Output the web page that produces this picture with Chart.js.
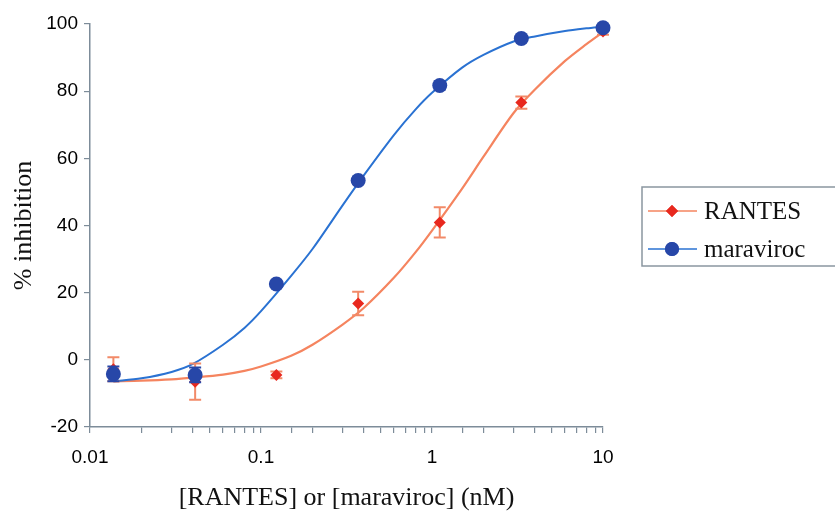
<!DOCTYPE html>
<html>
<head>
<meta charset="utf-8">
<script src="https://cdn.jsdelivr.net/npm/chart.js@4"></script>
<style>
html,body{margin:0;padding:0;background:#fff;}
#wrap{width:835px;height:515px;}
</style>
</head>
<body>
<div id="wrap"><canvas id="c" width="835" height="515"></canvas></div>
<script>
// Concentrations (nM)
const concentrations = [0.0137, 0.0412, 0.123, 0.370, 1.11, 3.33, 10];
// Mean % inhibition and error (±)
const rantesMean = [-2.8, -6.5, -4.5, 16.8, 40.9, 76.6, 97.8];
const rantesErr = [3.6, 5.4, 1.0, 3.5, 4.5, 1.8, 1.0];
const maravirocMean = [-4.2, -4.5, 22.6, 53.4, 81.7, 95.7, 98.9];
const maravirocErr = [2.2, 2.2, 0.6, 1.0, 1.2, 0.6, 0.5];
// Fitted curves
const fitX = [0.0137, 0.02, 0.03, 0.04, 0.06, 0.08, 0.1, 0.15, 0.2, 0.3, 0.4, 0.6, 0.8, 1, 1.5, 2, 3, 4, 6, 8, 10];
const rantesFit = [-6.4, -6.2, -5.8, -5.3, -4.4, -3.3, -2.0, 1.2, 4.5, 10.5, 15.5, 24.5, 32, 38.5, 51, 60.5, 73.5, 80.5, 89, 94, 97.6];
const maravirocFit = [-6.4, -5.5, -3.6, -1.2, 4.5, 9.5, 14.5, 25, 33, 46, 55, 67, 74.5, 79.5, 87, 90.8, 94.8, 96.3, 97.9, 98.7, 99.2];
// Axis ticks
const xTickLabels = [0.01, 0.1, 1, 10];
const yTicks = [-20, 0, 20, 40, 60, 80, 100];
const seriesNames = ['RANTES', 'maraviroc'];

const C = {
  rLine: '#f5845f', rMark: '#e8281e', rErr: '#f28a68',
  mLine: '#2a72d2', mMark: '#2747a8', mErr: '#2747a8',
  axis: '#7d8c99'
};

const pts = (xs, ys) => xs.map((x, i) => ({x: x, y: ys[i]}));

const errorBars = {
  id: 'errorBars',
  beforeDatasetDraw(chart, args) {
    const ds = chart.data.datasets[args.index];
    if (!ds.errors) return;
    const ctx = chart.ctx, xs = chart.scales.x, ys = chart.scales.y;
    ctx.save();
    ctx.strokeStyle = ds.errColor;
    ctx.lineWidth = 2;
    ds.data.forEach((p, i) => {
      const e = ds.errors[i];
      const px = xs.getPixelForValue(p.x);
      const top = ys.getPixelForValue(p.y + e);
      const bot = ys.getPixelForValue(p.y - e);
      ctx.beginPath();
      ctx.moveTo(px, top); ctx.lineTo(px, bot);
      ctx.moveTo(px - 6, top); ctx.lineTo(px + 6, top);
      ctx.moveTo(px - 6, bot); ctx.lineTo(px + 6, bot);
      ctx.stroke();
    });
    ctx.restore();
  }
};

const customLegend = {
  id: 'customLegend',
  afterDraw(chart) {
    const ctx = chart.ctx;
    ctx.save();
    ctx.strokeStyle = '#8a96a0';
    ctx.lineWidth = 1.5;
    ctx.strokeRect(642, 187, 200, 79);
    const rows = [
      {name: seriesNames[0], line: C.rLine, mark: C.rMark, style: 'rectRot', r: 6, y: 211},
      {name: seriesNames[1], line: C.mLine, mark: C.mMark, style: 'circle', r: 7, y: 249}
    ];
    rows.forEach(o => {
      ctx.strokeStyle = o.line;
      ctx.lineWidth = 1.3;
      ctx.beginPath(); ctx.moveTo(648, o.y); ctx.lineTo(697, o.y); ctx.stroke();
      ctx.fillStyle = o.mark;
      Chart.helpers.drawPoint(ctx, {pointStyle: o.style, radius: o.r, rotation: 0, borderWidth: 0}, 672, o.y);
      ctx.fill();
      ctx.fillStyle = '#111';
      ctx.font = '25px "Liberation Serif", "Times New Roman", serif';
      ctx.textBaseline = 'middle';
      ctx.textAlign = 'left';
      ctx.fillText(o.name, 704, o.y + 1);
    });
    ctx.restore();
  }
};

new Chart(document.getElementById('c'), {
  type: 'scatter',
  data: {
    datasets: [
      {label: 'maraviroc', data: pts(concentrations, maravirocMean), errors: maravirocErr, errColor: C.mErr,
       pointStyle: 'circle', pointRadius: 7.5, backgroundColor: C.mMark, borderColor: C.mMark, borderWidth: 0,
       showLine: false, order: 1, clip: false},
      {label: 'RANTES', data: pts(concentrations, rantesMean), errors: rantesErr, errColor: C.rErr,
       pointStyle: 'rectRot', pointRadius: 6, backgroundColor: C.rMark, borderColor: C.rMark, borderWidth: 0,
       showLine: false, order: 2, clip: false},
      {label: 'maraviroc fit', data: pts(fitX, maravirocFit), showLine: true, pointRadius: 0,
       borderColor: C.mLine, borderWidth: 2, tension: 0.3, order: 3, clip: false},
      {label: 'RANTES fit', data: pts(fitX, rantesFit), showLine: true, pointRadius: 0,
       borderColor: C.rLine, borderWidth: 2.2, tension: 0.3, order: 4, clip: false}
    ]
  },
  options: {
    responsive: false,
    animation: false,
    layout: {padding: {left: 0, right: 232, top: 24, bottom: 0}},
    plugins: {legend: {display: false}, tooltip: {enabled: false}},
    scales: {
      x: {
        type: 'logarithmic', min: 0.01, max: 10,
        afterFit(s) { s.height = 88; },
        border: {display: true, color: C.axis, width: 1.5},
        grid: {display: true, drawOnChartArea: false, drawTicks: true, tickLength: 6, color: C.axis, lineWidth: 1.2},
        ticks: {
          autoSkip: false, maxRotation: 0, padding: 13, color: '#000',
          font: {family: '"Liberation Sans", Arial, sans-serif', size: 19},
          callback(v) { return xTickLabels.some(t => Math.abs(t - v) / t < 1e-6) ? String(v) : ''; }
        },
        title: {display: true, text: '[RANTES] or [maraviroc] (nM)', color: '#111',
          font: {family: '"Liberation Serif", "Times New Roman", serif', size: 26}, padding: {top: 0, bottom: 1}}
      },
      y: {
        type: 'linear', min: -20, max: 100,
        afterFit(s) { s.width = 90; },
        afterBuildTicks(s) { s.ticks = yTicks.map(v => ({value: v})); },
        border: {display: true, color: C.axis, width: 1.5},
        grid: {display: true, drawOnChartArea: false, drawTicks: true, tickLength: 6, color: C.axis, lineWidth: 1.2},
        ticks: {padding: 6, color: '#000',
          font: {family: '"Liberation Sans", Arial, sans-serif', size: 19}},
        title: {display: true, text: '% inhibition', color: '#111',
          font: {family: '"Liberation Serif", "Times New Roman", serif', size: 26}, padding: {top: 9, bottom: 0}}
      }
    }
  },
  plugins: [errorBars, customLegend]
});
</script>
</body>
</html>
